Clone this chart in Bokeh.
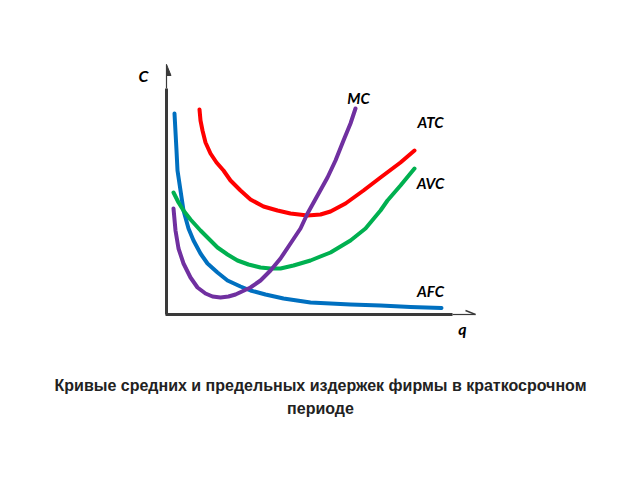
from bokeh.plotting import figure
from bokeh.models import Range1d
from bokeh.core.properties import value
from bokeh.embed import file_html
from bokeh.resources import INLINE

# Data (q, C) coordinates, origin at the axes corner
afc_q = [8, 10, 11, 14, 17, 22, 27, 34, 41, 51, 61, 74, 84, 99, 117, 144, 184, 214, 244, 275]
afc_c = [200, 163, 143, 123, 103, 85, 73, 60, 50, 41, 33, 27, 23, 19, 15, 11, 9, 8, 6.5, 5.5]

mc_q = [7, 9, 12, 17, 24, 31, 39, 46, 54, 62, 69, 84, 94, 104, 114, 124, 134, 141, 151, 161, 169, 177, 184, 189]
mc_c = [105, 83, 65, 50, 36, 26, 20, 17, 16, 17, 19, 26, 33, 43, 55, 70, 85, 100, 118, 136, 153, 173, 190, 205]

avc_q = [7, 12, 17, 24, 34, 44, 51, 61, 71, 82, 94, 104, 114, 127, 144, 164, 184, 199, 214, 221, 234, 248]
avc_c = [121, 111, 103, 94, 83, 73, 66, 59, 53, 49, 46, 45, 45, 48, 53, 61, 73, 85, 103, 113, 128, 145]

atc_q = [33, 34, 36, 39, 44, 50, 57, 64, 74, 84, 97, 111, 124, 141, 154, 164, 179, 197, 214, 234, 248]
atc_c = [204, 193, 183, 171, 160, 151, 143, 133, 123, 114, 107, 103, 100, 98, 99, 102, 110, 123, 136, 151, 163]

curve_names = ["MC", "ATC", "AVC", "AFC"]
label_q = [192, 264, 264, 264]
label_c = [216, 192, 131, 23]

axis_names = ["C", "q"]
caption = ["Кривые средних и предельных издержек фирмы в краткосрочном", "периоде"]

p = figure(width=640, height=480, output_backend="svg", toolbar_location=None,
           x_range=Range1d(-166, 474), y_range=Range1d(-167, 313),
           x_axis_location=None, y_axis_location=None, min_border=0)
p.grid.visible = False
p.outline_line_color = None
p.background_fill_color = "white"
p.border_fill_color = "white"

axc = "#3a3a3a"
# axes
p.line([0, 0], [-1, 225], line_color=axc, line_width=3)
p.line([0, 0], [225, 249], line_color=axc, line_width=1.2)
p.patch([0, 0, 4.5], [249, 238, 238], fill_color=axc, line_color=axc, line_width=1)
p.line([-1, 286], [-1, -1], line_color=axc, line_width=3)
p.line([286, 309], [-1, -1], line_color=axc, line_width=1.2)
p.line([299, 309], [3, -1], line_color=axc, line_width=1.5)

# curves
p.line(afc_q, afc_c, line_color="#0070C0", line_width=4, line_join="round", line_cap="round")
p.line(avc_q, avc_c, line_color="#00B050", line_width=4, line_join="round", line_cap="round")
p.line(atc_q, atc_c, line_color="#FF0000", line_width=4, line_join="round", line_cap="round")
p.line(mc_q, mc_c, line_color="#7030A0", line_width=4, line_join="round", line_cap="round")

lab_font = value("Lato")
p.text(x=label_q, y=label_c, text=curve_names, text_font=lab_font, text_font_size="15px",
       text_font_style="bold italic", text_align="center", text_baseline="middle", text_color="black")
p.text(x=[-23, 296], y=[238, -15], text=axis_names, text_font=lab_font, text_font_size="16px",
       text_font_style="bold italic", text_align="center", text_baseline="middle", text_color="black")

p.text(x=[154, 154], y=[-72, -95], text=caption, text_font=value("Liberation Sans"),
       text_font_size="16px", text_font_style="bold", text_align="center", text_baseline="middle",
       text_color="#222222")

open("out.html", "w").write(file_html(p, INLINE))
